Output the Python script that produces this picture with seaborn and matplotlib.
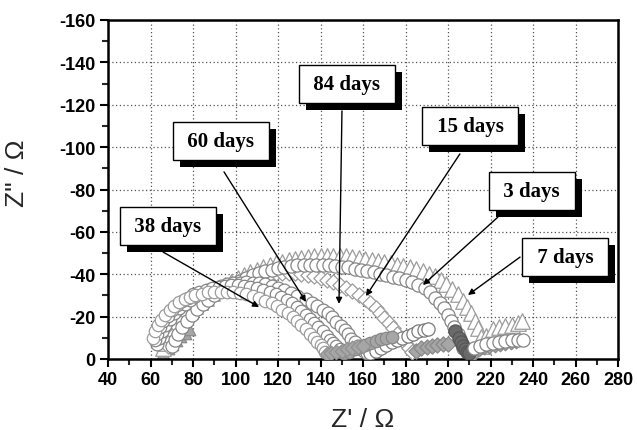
import matplotlib
matplotlib.use("Agg")
import matplotlib.pyplot as plt
import matplotlib.patheffects as pe
from matplotlib.ticker import MultipleLocator
import seaborn as sns

# ---------------- data ----------------
x_ticks = [40, 60, 80, 100, 120, 140, 160, 180, 200, 220, 240, 260, 280]
y_ticks = [0, -20, -40, -60, -80, -100, -120, -140, -160]
y_tick_labels = ["0", "-20", "-40", "-60", "-80", "-100", "-120", "-140", "-160"]

# 7 days (triangles)
d7_x = [66, 67, 68.5, 70, 72, 74, 76, 78.5, 81, 83.5, 86, 89, 92, 95, 98, 101, 104, 107, 110, 113,
        116, 119, 122, 125, 128, 131, 134, 137, 140, 143, 146, 149, 152, 155, 158, 161, 164, 167, 170, 173,
        176, 179, 182, 185, 188, 191, 194, 196.5, 199, 202, 204.5, 207, 209, 211, 212.5, 214, 215.5, 216.5]
d7_y = [-5, -7.5, -10, -12.5, -15, -17.5, -20, -22.5, -25, -27, -29, -31, -33, -35, -36.5, -38, -39.5, -41, -42.2, -43.3,
        -44.3, -45.2, -46, -46.7, -47.3, -47.8, -48.2, -48.5, -48.7, -48.8, -48.8, -48.7, -48.5, -48.2, -47.8, -47.3, -46.7, -46.2, -45.7, -45.2,
        -44.6, -44, -43.3, -42.5, -41.5, -40.3, -39, -37.3, -35.3, -33, -30.5, -27.5, -24.5, -21.5, -18, -14.5, -10.5, -6]
d7_tail_x = [218, 221, 224, 227, 230, 233, 235]
d7_tail_y = [-11, -14, -15, -15.5, -16, -17, -18]
d7_low_x = [212, 214.5, 217, 219.5, 222, 224.5, 227, 229.5, 232]
d7_low_y = [-3, -4.5, -5.5, -6, -6.5, -7, -7.5, -8, -8.5]

# 15 days (diamonds)
d15_x = [68, 69.5, 71, 73, 75, 77.5, 80, 83, 86, 89, 92, 95, 98, 101, 104, 107, 110, 113, 116, 119,
         122, 125, 128, 131, 134, 137, 140, 143, 146, 149, 152, 155, 158, 161, 163.5, 166, 168, 170, 172, 174,
         176, 178, 180, 181.5, 183]
d15_y = [-6, -9, -12, -15, -18, -21, -23.5, -26, -28, -30, -32, -33.5, -35, -36.3, -37.4, -38.3, -39, -39.6, -40.1, -40.4,
         -40.6, -40.6, -40.4, -40.1, -39.6, -39, -38.2, -37.3, -36.2, -35, -33.6, -32, -30.2, -28.2, -26.2, -24, -21.8, -19.5, -17, -14.5,
         -12, -9.5, -7, -5, -3.5]
d15_tail_x = [185, 187.5, 190, 192.5, 195, 197.5, 200]
d15_tail_y = [-4, -5, -5.5, -6, -6.5, -7, -7]

# 3 days (circles)
d3_x = [70, 71.5, 73, 75, 77, 79.5, 82, 84.5, 87, 90, 93, 96, 99, 102, 105, 108, 111, 114, 117, 120,
        123, 126, 129, 132, 135, 138, 141, 144, 147, 150, 153, 156, 159, 162, 165, 168, 171, 174, 177, 180,
        183, 186, 189, 191.5, 194, 196, 198, 200, 201.5, 203, 204.5, 205.5, 206.5, 207]
d3_y = [-6, -9, -12, -15, -18, -21, -23.5, -26, -28, -30, -32, -34, -35.5, -37, -38.3, -39.5, -40.5, -41.4, -42.2, -42.9,
        -43.5, -44, -44.3, -44.5, -44.6, -44.6, -44.5, -44.3, -44, -43.6, -43.2, -42.7, -42.2, -41.6, -41, -40.3, -39.5, -38.8, -38, -37.2,
        -36.2, -35, -33.3, -31.5, -29, -26.5, -24, -21, -18, -15, -12, -9.5, -7, -5]
d3_end_x = [203.5, 205, 206, 207, 208, 209, 210]
d3_end_y = [-13, -10, -8, -6, -4.5, -3.5, -3]
d3_tail_x = [212, 215, 218, 221, 224, 227, 230, 233, 235.5]
d3_tail_y = [-5, -6, -7, -7.5, -8, -8.5, -9, -9, -9]

# 84 days (circles)
d84_x = [63, 64, 65.5, 67, 69, 71, 73.5, 76, 78.5, 81, 84, 87, 90, 93, 96, 99, 102, 105, 108, 111,
         114, 117, 120, 123, 126, 129, 133, 136, 138.5, 141, 143.5, 145.5, 147.5, 149.5, 151.5, 153, 154.5, 156, 157.5, 159,
         160.5, 162]
d84_y = [-7, -10, -13, -16, -19, -21.5, -24, -26, -28, -29.8, -31.3, -32.6, -33.7, -34.6, -35.3, -35.8, -36.1, -36.2, -36.1, -35.8,
         -35.3, -34.6, -33.7, -32.6, -31.3, -29.8, -28.2, -26.6, -25, -23.3, -21.5, -19.6, -17.6, -15.6, -13.6, -11.6, -9.6, -7.8, -6.2, -4.8,
         -3.6, -2.8]
d84_tail_x = [163.5, 166, 168.5, 171, 173.5, 176, 178.5, 181, 183.5, 186, 188.5, 190.5]
d84_tail_y = [-3, -4, -5, -6.5, -8, -9, -10, -11, -12, -13, -13.5, -14]

# 60 days (circles)
d60_x = [62, 63, 64.5, 66, 68, 70, 72.5, 75, 77.5, 80, 83, 86, 89, 92, 95, 98, 101, 104, 107, 110,
         113, 116, 119, 121.5, 124, 126.5, 129, 131, 133, 135, 137, 139, 141, 143, 144.5, 146, 147.5, 149, 150]
d60_y = [-9, -12, -15, -18, -20.5, -23, -25.3, -27.3, -29, -30.5, -31.7, -32.7, -33.5, -34.1, -34.5, -34.7, -34.7, -34.5, -34.1, -33.5,
         -32.7, -31.7, -30.5, -29.2, -27.8, -26.2, -24.5, -22.8, -21, -19, -17, -15, -13, -11, -9.2, -7.5, -6, -4.5, -3.2]
d60_tail_x = [151, 153.5, 156, 158.5, 161, 163.5, 166, 168.5, 171, 173.5]
d60_tail_y = [-3, -3.5, -4.5, -5.5, -6.5, -7.5, -8.5, -9.5, -10, -10.5]

# 38 days (circles)
d38_x = [61, 62, 63.5, 65, 67, 69, 71, 73.5, 76, 78.5, 81, 84, 87, 90, 93, 96, 99, 102, 105, 108,
         111, 114, 117, 119.5, 122, 124.5, 127, 129, 131, 133, 135, 137, 138.5, 140, 141, 142]
d38_y = [-10, -13, -16, -18.5, -21, -23, -25, -26.8, -28.2, -29.3, -30.2, -30.9, -31.4, -31.7, -31.8, -31.8, -31.6, -31.2, -30.6, -29.8,
         -28.8, -27.6, -26.2, -24.8, -23.2, -21.5, -19.7, -17.8, -15.9, -14, -12, -10, -8.2, -6.5, -5, -3.5]
d38_tail_x = [143, 145, 147.5, 150, 152.5, 155, 157.5, 160]
d38_tail_y = [-2.5, -3, -3.5, -4, -4.5, -5, -5.5, -6]

# high-frequency start (grey filled triangles)
start_x = [66, 68, 70, 72, 74, 76, 78]
start_y = [-3, -5, -7, -9, -11, -12.5, -14]

# labels: text position, arrow tail, arrow tip
labels = ["38 days", "60 days", "84 days", "15 days", "3 days", "7 days"]
label_x = [68.2, 93.2, 152.5, 210.4, 239.5, 255.1]
label_y = [-62.8, -102.9, -129.8, -110.0, -79.3, -48.1]
tail_x = [65.9, 94.6, 150.1, 205.6, 223.5, 233.9]
tail_y = [-50.5, -88.3, -117.1, -96.8, -67.0, -48.1]
tip_x = [111.1, 133.2, 148.7, 161.4, 188.2, 209.4]
tip_y = [-24.5, -26.9, -26.0, -29.7, -34.9, -30.2]

# ---------------- figure ----------------
sns.set_style("white")
plt.rcParams["font.family"] = ["Liberation Sans", "DejaVu Sans"]

fig = plt.figure(figsize=(6.37, 4.31), dpi=100)
ax = fig.add_axes([108 / 637, 71 / 431, 510 / 637, 339 / 431])

EDGE = "#858585"
LIGHT = "#9c9c9c"
GREYF = "#a6a6a6"


def sc(xs, ys, marker, s, face, edge, lw=0.9, z=3):
    sns.scatterplot(x=xs, y=ys, ax=ax, marker=marker, s=s, color=face,
                    edgecolor=edge, linewidth=lw, legend=False, zorder=z)


sc(start_x, start_y, "^", 80, GREYF, "#8a8a8a", z=2)
sc(d7_x, d7_y, "^", 125, "white", LIGHT, z=3)
sc(d7_low_x, d7_low_y, "D", 55, GREYF, "#8a8a8a", z=3)
sc(d7_tail_x, d7_tail_y, "^", 125, "white", LIGHT, z=3)
sc(d15_x, d15_y, "D", 60, "white", LIGHT, z=4)
sc(d15_tail_x, d15_tail_y, "D", 60, GREYF, "#888888", z=4)
sc(d3_x, d3_y, "o", 90, "white", EDGE, z=5)
sc(d3_end_x, d3_end_y, "o", 90, "#6a6a6a", "#555555", z=5)
sc(d3_tail_x, d3_tail_y, "o", 90, "white", EDGE, z=5)
sc(d84_x, d84_y, "o", 85, "white", EDGE, z=6)
sc(d84_tail_x, d84_tail_y, "o", 90, "white", "#7a7a7a", z=6)
sc(d60_x, d60_y, "o", 80, "white", EDGE, z=7)
sc(d60_tail_x, d60_tail_y, "o", 80, GREYF, "#888888", z=7)
sc(d38_x, d38_y, "o", 80, "white", LIGHT, z=8)
sc(d38_tail_x, d38_tail_y, "D", 55, GREYF, "#909090", z=8)

# axes
ax.set_xlim(40, 280)
ax.set_ylim(0, -160)
ax.set_xticks(x_ticks)
ax.set_xticklabels([str(t) for t in x_ticks], fontweight="bold", fontsize=13)
ax.set_yticks(y_ticks)
ax.set_yticklabels(y_tick_labels, fontweight="bold", fontsize=13)
ax.xaxis.set_minor_locator(MultipleLocator(10))
ax.yaxis.set_minor_locator(MultipleLocator(10))
ax.tick_params(which="major", direction="out", length=6, width=1.5, bottom=True, left=True,
               top=False, right=False, pad=3, colors="black")
ax.tick_params(which="minor", direction="out", length=4, width=1.5, bottom=True, left=True,
               top=False, right=False)
for sp in ax.spines.values():
    sp.set_linewidth(1.8)
    sp.set_color("black")
ax.grid(True, which="major", linestyle=(0, (1, 2)), color="#555555", linewidth=0.9)
ax.set_axisbelow(True)

ax.set_xlabel("Z' / \u03a9", fontsize=19, labelpad=13)
ax.set_ylabel('Z" / \u03a9', fontsize=19)
ax.yaxis.set_label_coords(-0.155, 0.55)

# callouts
shadow = [pe.withSimplePatchShadow(offset=(5, -5), shadow_rgbFace="black", alpha=1.0)]
for lab, lx, ly, txx, tyy, px, py in zip(labels, label_x, label_y, tail_x, tail_y, tip_x, tip_y):
    ax.annotate("", xy=(px, py), xytext=(txx, tyy), xycoords="data", textcoords="data",
                arrowprops=dict(arrowstyle="-|>", color="black", lw=1.0, mutation_scale=9,
                                shrinkA=0, shrinkB=0), zorder=20)
    ax.text(lx, ly, " " + lab + " ", ha="center", va="center", fontsize=15, fontweight="bold",
            family=["Liberation Serif", "DejaVu Serif"], color="black",
            bbox=dict(boxstyle="square,pad=0.45", facecolor="white", edgecolor="black", lw=1,
                      path_effects=shadow),
            zorder=22)

fig.savefig("out.png", dpi=100)
